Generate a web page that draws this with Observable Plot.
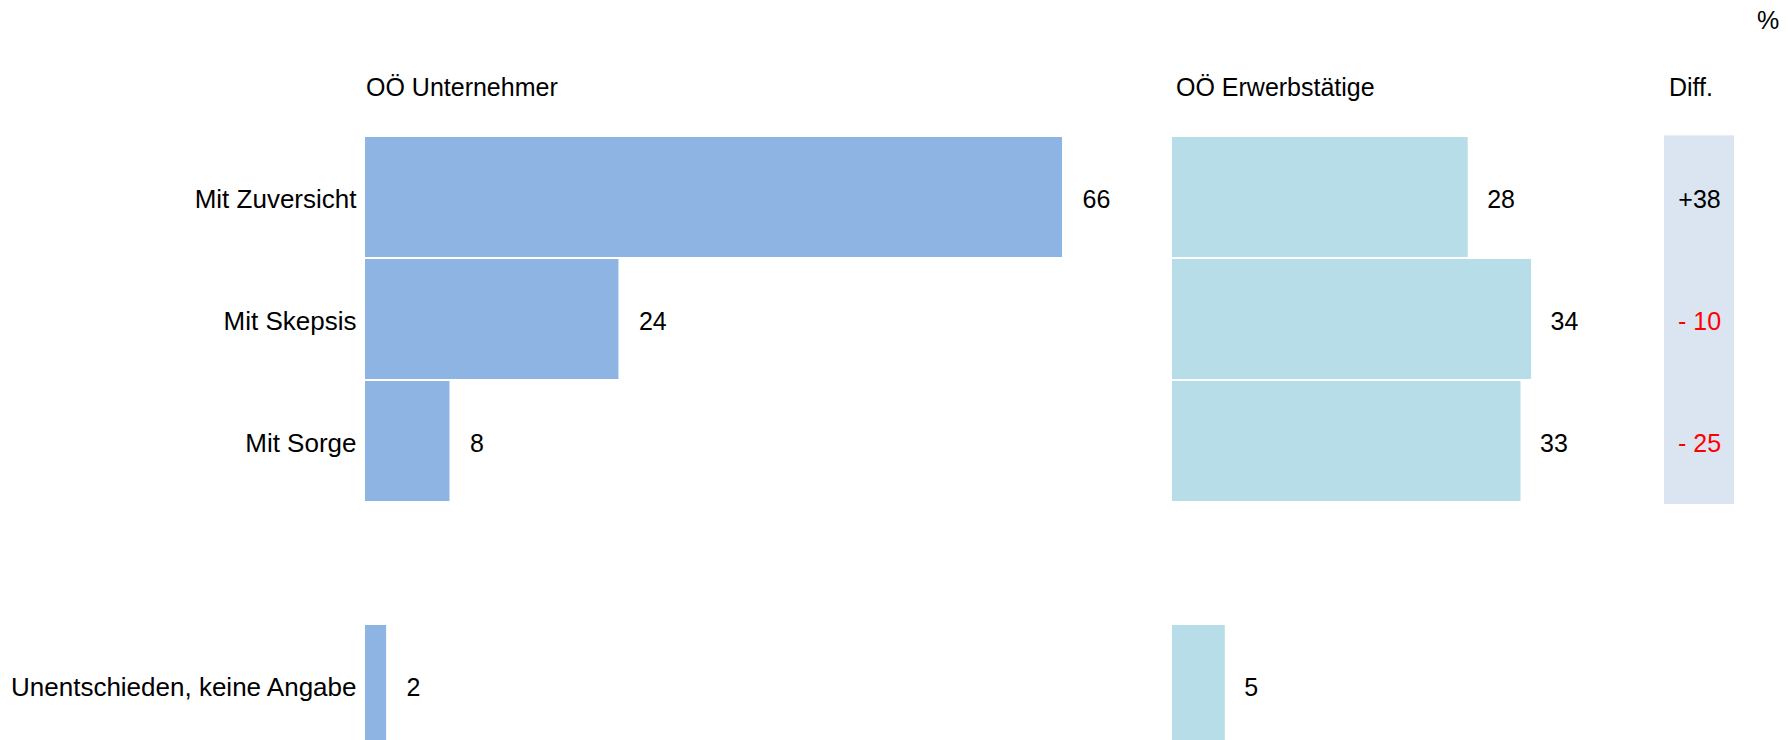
<!DOCTYPE html>
<html><head><meta charset="utf-8">
<script src="https://cdn.jsdelivr.net/npm/d3@7"></script>
<script src="https://cdn.jsdelivr.net/npm/@observablehq/plot@0.6"></script>
<style>
body{margin:0;background:#fff;font-family:"Liberation Sans",Arial,sans-serif;}
#wrap{position:relative;width:1789px;height:740px;overflow:hidden;background:#fff;}
.panel{position:absolute;top:0;}
.hdr{position:absolute;font-size:25px;color:#000;white-space:nowrap;line-height:1;font-family:"Liberation Sans",Arial,sans-serif;}
</style></head><body>
<div id="wrap"></div>
<script>
// ---- data ----
const categories = ["Mit Zuversicht", "Mit Skepsis", "Mit Sorge", "Unentschieden, keine Angabe"];
const unternehmer = [66, 24, 8, 2];
const erwerbstaetige = [28, 34, 33, 5];
const diffCategories = ["Mit Zuversicht", "Mit Skepsis", "Mit Sorge"];
const diffValues = [38, -10, -25];
const seriesNames = ["OÖ Unternehmer", "OÖ Erwerbstätige", "Diff."];
const unitLabel = "%";

// ---- layout / style ----
const FONT = "'Liberation Sans', Arial, sans-serif";
const FS = 25;
const pxPerUnit = (1062 - 365) / 66;
const spacer = " ";
const yDomain = [...categories.slice(0, 3), spacer, categories[3]];
const yOpts = {domain: yDomain, range: [137, 748], paddingInner: 0.02, paddingOuter: 0, align: 0};
const wrap = document.getElementById("wrap");

function addPanel(left, node) {
  const d = document.createElement("div");
  d.className = "panel";
  d.style.left = left + "px";
  d.appendChild(node);
  wrap.appendChild(d);
}
function addHeader(text, left, top) {
  const s = document.createElement("div");
  s.className = "hdr";
  s.textContent = text;
  s.style.left = left + "px";
  s.style.top = top + "px";
  wrap.appendChild(s);
}

const baseStyle = {fontFamily: FONT, fontSize: FS + "px", color: "#000", background: "transparent", overflow: "visible"};

// Panel A: OÖ Unternehmer
const dataA = categories.map((c, i) => ({cat: c, v: unternehmer[i]}));
addPanel(0, Plot.plot({
  width: 1130, height: 740,
  marginLeft: 365, marginRight: 0, marginTop: 0, marginBottom: 0,
  style: baseStyle,
  x: {domain: [0, 66], range: [365, 365 + 66 * pxPerUnit], axis: null},
  y: yOpts,
  marks: [
    Plot.barX(dataA, {x: "v", y: "cat", fill: "#8eb4e3"}),
    Plot.text(dataA, {x: "v", y: "cat", text: d => String(d.v), dx: 20, dy: 2, textAnchor: "start", fontSize: FS, fill: "#000"}),
    Plot.axisY({anchor: "left", label: null, tickSize: 0, tickPadding: 9, dy: 2, fontSize: 26, tickFormat: d => d.trim(), fill: "#000"})
  ]
}));

// Panel B: OÖ Erwerbstätige
const dataB = categories.map((c, i) => ({cat: c, v: erwerbstaetige[i]}));
addPanel(1130, Plot.plot({
  width: 480, height: 740,
  marginLeft: 42, marginRight: 0, marginTop: 0, marginBottom: 0,
  style: baseStyle,
  x: {domain: [0, 34], range: [42, 42 + 34 * pxPerUnit], axis: null},
  y: {...yOpts, axis: null},
  marks: [
    Plot.barX(dataB, {x: "v", y: "cat", fill: "#b7dee8"}),
    Plot.text(dataB, {x: "v", y: "cat", text: d => String(d.v), dx: 19, dy: 2, textAnchor: "start", fontSize: FS, fill: "#000"})
  ]
}));

// Panel C: Diff.
const dataC = diffCategories.map((c, i) => ({cat: c, col: seriesNames[2], v: diffValues[i]}));
addPanel(1610, Plot.plot({
  width: 179, height: 740,
  marginLeft: 0, marginRight: 0, marginTop: 0, marginBottom: 0,
  style: baseStyle,
  x: {domain: [seriesNames[2]], range: [54, 124], padding: 0, axis: null},
  y: {...yOpts, axis: null},
  color: {type: "identity"},
  marks: [
    Plot.cell(dataC, {x: "col", y: "cat", fill: "#dbe5f1", insetTop: -1.6, insetBottom: -3}),
    Plot.text(dataC, {
      x: "col", y: "cat", dy: 2,
      text: d => d.v > 0 ? "+" + d.v : "- " + Math.abs(d.v),
      fill: d => d.v < 0 ? "#ff0000" : "#000000",
      fontSize: FS
    })
  ]
}));

// Headers
addHeader(seriesNames[0], 366, 75);
addHeader(seriesNames[1], 1176, 75);
addHeader(seriesNames[2], 1669, 75);
addHeader(unitLabel, 1757, 8);
</script>
</body></html>
